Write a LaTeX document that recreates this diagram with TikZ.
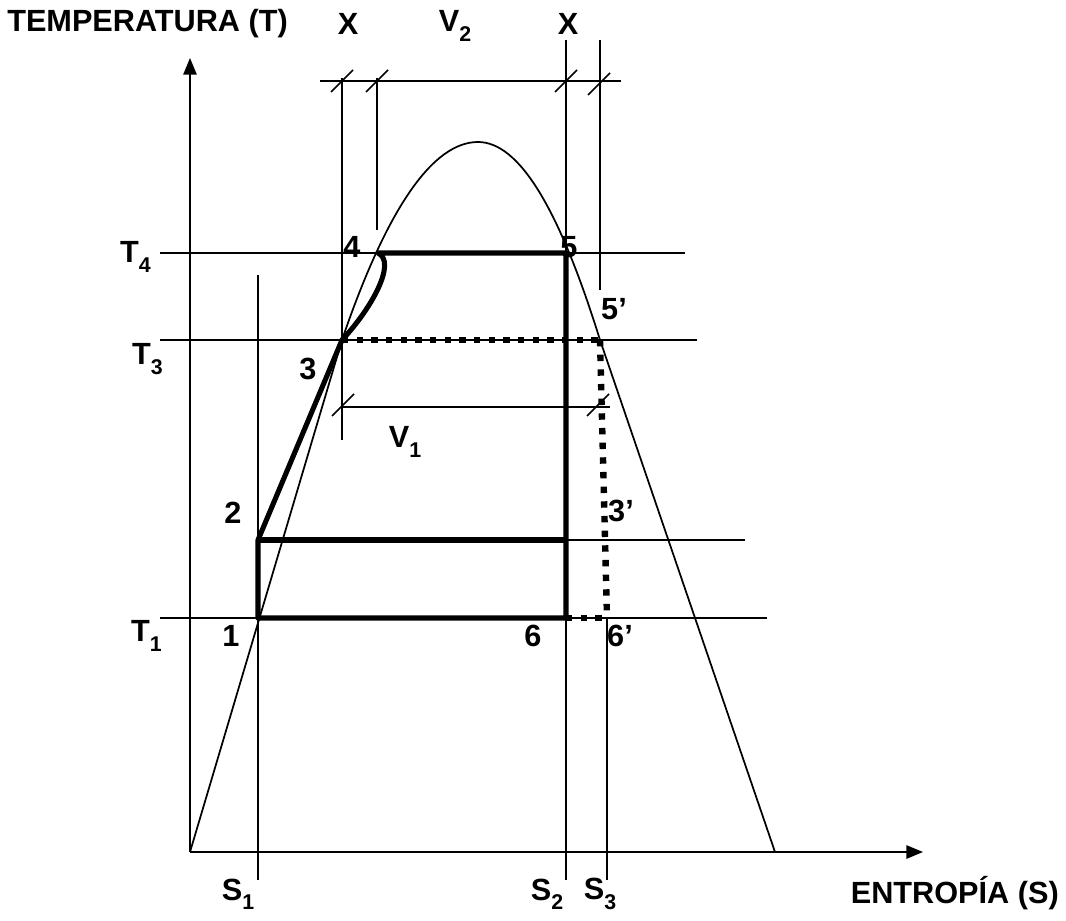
\documentclass[tikz,border=0pt]{standalone}
\usepackage{fontspec}
\setmainfont{Liberation Sans}
\usetikzlibrary{arrows.meta}
\newcommand{\lowidx}[1]{\raisebox{-0.3em}{\fontsize{16}{16}\selectfont #1}}

\begin{document}
\begin{tikzpicture}[x=0.75pt, y=-0.75pt, line cap=butt, line join=round,
  lbl/.style={font=\bfseries\fontsize{23}{27}\selectfont, inner sep=0pt},
  guide/.style={line width=1.3pt},
  cycleline/.style={line width=3.8pt},
  dotline/.style={line width=4.8pt, dash pattern=on 4.8pt off 6.2pt},
  dimtick/.style={line width=1.1pt}]
% T-S diagram, pixel coordinates (y down)
\def\tickhalf{11}
\providecommand{\axisTip}{Triangle[length=12.5pt,width=10pt]}
\useasboundingbox (0,0) rectangle (1066,920);
% Points of the cycle and the dome
\coordinate (o) at (190,852);
\coordinate (p1) at (258,618);
\coordinate (p2) at (258,540);
\coordinate (p3) at (342,340);
\coordinate (p4) at (378,253);
\coordinate (p5) at (566,253);
\coordinate (p6) at (566,618);
\coordinate (q5) at (600,340);
\coordinate (q6) at (607,618);
\coordinate (q2) at (566,540);
\coordinate (top) at (478,142);
\coordinate (dend) at (775,852);
% Axes
\draw[guide, -{\axisTip}] (o) -- (190,58) coordinate (ytip);
\draw[guide, -{\axisTip}] (o) -- (923,852) coordinate (xtip);
% Isotherms and levels
\begin{scope}[guide]
  \draw (160,253) coordinate (t4a) -- (685,253) coordinate (t4b);
  \draw (160,340) coordinate (t3a) -- (697,340) coordinate (t3b);
  \draw (p2) -- (745,540) coordinate (l2b);
  \draw (160,618) coordinate (t1a) -- (767,618) coordinate (t1b);
\end{scope}
% Entropy lines
\begin{scope}[guide]
  \draw (258,275) coordinate (s1a) -- (258,880) coordinate (s1b);
  \draw (566,40) coordinate (s2a) -- (566,880) coordinate (s2b);
  \draw (q6) -- (607,880) coordinate (s3b);
  \draw (600,40) coordinate (xra) -- (600,290) coordinate (xrb);
  \draw (342,78) coordinate (xla) -- (342,440) coordinate (xlb);
  \draw (377,78) coordinate (vla) -- (377,230) coordinate (vlb);
\end{scope}
% Dimension lines
\begin{scope}[guide]
  \draw (320,81) coordinate (da) -- (621,81) coordinate (db);
  \draw (342,407) coordinate (va) -- (610,407) coordinate (vb);
\end{scope}
\begin{scope}[dimtick]
  \foreach \tx/\ty in {342/81, 377/81, 566/81, 599/84, 343/405, 598/405}
    \draw (\tx-\tickhalf,\ty+\tickhalf) -- (\tx+\tickhalf,\ty-\tickhalf);
\end{scope}
% Saturation dome
\draw[guide] (o) -- (p3) .. controls (387,208) and (433,142) .. (top)
  .. controls (519,142) and (559,208) .. (q5) -- (dend);
% Cycle
\begin{scope}[cycleline]
  \draw (p6) -- (p1) -- (p2) -- (p3)
    .. controls (372,308) and (397,262) .. (p4) -- (p5) -- (p6);
  \draw (p2) -- (q2);
\end{scope}
\begin{scope}[dotline]
  \draw (p3) -- (q5);
  \draw (q5) -- (q6);
  \draw (p6) -- (q6);
\end{scope}
% Labels
\node[lbl, anchor=west] (ylab) at (7,24) {TEMPERATURA (T)};
\node[lbl] (xl) at (348,24) {X};
\node[lbl] (v2) at (455,26) {V\lowidx{2}};
\node[lbl] (xr) at (568,24) {X};
\node[lbl, anchor=east] (t4) at (151,257) {T\lowidx{4}};
\node[lbl, anchor=east] (t3) at (163,359) {T\lowidx{3}};
\node[lbl, anchor=east] (t1) at (162,636) {T\lowidx{1}};
\node[lbl] (n4) at (352,247) {4};
\node[lbl] (n5) at (569,247) {5};
\node[lbl] (n5p) at (614,309) {5’};
\node[lbl] (n3) at (308,369) {3};
\node[lbl] (v1) at (405,442) {V\lowidx{1}};
\node[lbl] (n2) at (233,513) {2};
\node[lbl] (n3p) at (621,511) {3’};
\node[lbl] (n1) at (231,636) {1};
\node[lbl] (n6) at (533,636) {6};
\node[lbl] (n6p) at (620,636) {6’};
\node[lbl] (s1) at (238,894) {S\lowidx{1}};
\node[lbl] (s2) at (547,894) {S\lowidx{2}};
\node[lbl] (s3) at (600,894) {S\lowidx{3}};
\node[lbl, anchor=east] (xlab) at (1059,893) {ENTROPÍA (S)};
\end{tikzpicture}
\end{document}
